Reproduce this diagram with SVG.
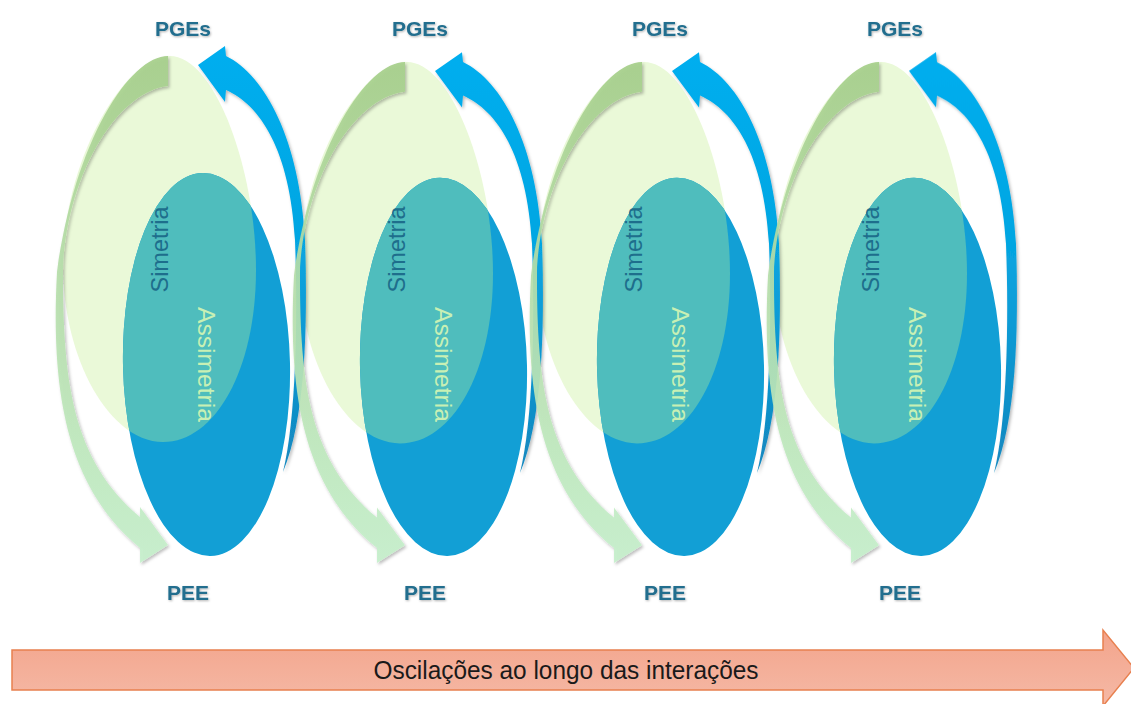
<svg xmlns="http://www.w3.org/2000/svg" xmlns:xlink="http://www.w3.org/1999/xlink" width="1131" height="704" viewBox="0 0 1131 704">
<defs>
<style>
.light{fill:#EAF9D8}
.blue{fill:#129FD5}
.teal{fill:#4FBDBD}
.lbl{font-family:"Liberation Sans",Arial,sans-serif;font-weight:bold;font-size:21px;fill:#216E8E;text-anchor:middle}
.sim{font-family:"Liberation Sans",Arial,sans-serif;font-size:24px;fill:#1E6E8C;text-anchor:middle}
.asim{font-family:"Liberation Sans",Arial,sans-serif;font-size:24.5px;fill:#C8F0B4;text-anchor:middle}
.garrow{fill:url(#gGreen);opacity:0.92}
.barrow{fill:url(#gBlue)}
</style>
<linearGradient id="gGreen" gradientUnits="userSpaceOnUse" x1="0" y1="56" x2="0" y2="560">
<stop offset="0" stop-color="#A6CF8B"/>
<stop offset="0.45" stop-color="#B6DEAA"/>
<stop offset="1" stop-color="#C6F0CC"/>
</linearGradient>
<linearGradient id="gBlue" gradientUnits="userSpaceOnUse" x1="0" y1="46" x2="0" y2="472">
<stop offset="0" stop-color="#00AEEF"/>
<stop offset="0.45" stop-color="#06A6E2"/>
<stop offset="1" stop-color="#1487BE"/>
</linearGradient>
<linearGradient id="gOrange" x1="0" y1="0" x2="0" y2="1">
<stop offset="0" stop-color="#F3A48B"/>
<stop offset="1" stop-color="#F5B9A6"/>
</linearGradient>
<filter id="sh" x="-20%" y="-20%" width="140%" height="140%">
<feDropShadow dx="1.5" dy="2" stdDeviation="1.5" flood-color="#000" flood-opacity="0.28"/>
</filter>
<filter id="tsh" x="-20%" y="-20%" width="140%" height="140%">
<feDropShadow dx="0.8" dy="1" stdDeviation="0.8" flood-color="#000" flood-opacity="0.3"/>
</filter>
<clipPath id="clipBlue" clipPathUnits="userSpaceOnUse">
<ellipse cx="206.5" cy="364.5" rx="83.5" ry="191.5" transform="rotate(-1.2 206.5 364.5)"/>
</clipPath>
<path id="egg" d="M170,56 C215,56 256,170 256,270 C256,370 215,442 163,442 C110,442 63,360 63,265 C63,160 125,56 170,56 Z"/>
<g id="unitShapes">
<use xlink:href="#egg" class="light"/>
<ellipse class="blue" cx="206.5" cy="364.5" rx="83.5" ry="191.5" transform="rotate(-1.2 206.5 364.5)"/>
<g clip-path="url(#clipBlue)">
<use xlink:href="#egg" class="teal"/>
</g>
</g>
<path id="greenArrow" d="M168,56 C130,56 75,140 57,272 C50,400 70,490 140,548 L140,563 L168,545 L140,507 L140,517 C72,460 63,380 63,272 C65,180 115,92 168,86 Z"/>
<path id="blueArrow" d="M198,65 L225,46 L226,56 C265,75 300,140 305,240 C308,330 305,420 283,472 C296,420 298,320 295,240 C290,150 260,105 226,90 L225,102 Z"/>
</defs>
<rect width="1131" height="704" fill="#FFFFFF"/>

<g id="node-1">
<use xlink:href="#unitShapes"/>
<text class="lbl" x="183" y="36" filter="url(#tsh)">PGEs</text>
<text class="lbl" x="188" y="600" filter="url(#tsh)">PEE</text>
<text class="sim" transform="translate(168,249.5) rotate(-90)" textLength="86" lengthAdjust="spacingAndGlyphs">Simetria</text>
<text class="asim" transform="translate(198,364.5) rotate(90)" textLength="115" lengthAdjust="spacingAndGlyphs">Assimetria</text>
</g>

<g id="node-2">
<use xlink:href="#unitShapes" transform="translate(237,6.7) scale(1,0.988)"/>
<text class="lbl" x="420" y="36" filter="url(#tsh)">PGEs</text>
<text class="lbl" x="425" y="600" filter="url(#tsh)">PEE</text>
<text class="sim" transform="translate(405,249.5) rotate(-90)" textLength="86" lengthAdjust="spacingAndGlyphs">Simetria</text>
<text class="asim" transform="translate(435,364.5) rotate(90)" textLength="115" lengthAdjust="spacingAndGlyphs">Assimetria</text>
</g>

<g id="node-3">
<use xlink:href="#unitShapes" transform="translate(474,6.7) scale(1,0.988)"/>
<text class="lbl" x="660" y="36" filter="url(#tsh)">PGEs</text>
<text class="lbl" x="665" y="600" filter="url(#tsh)">PEE</text>
<text class="sim" transform="translate(642,249.5) rotate(-90)" textLength="86" lengthAdjust="spacingAndGlyphs">Simetria</text>
<text class="asim" transform="translate(672,364.5) rotate(90)" textLength="115" lengthAdjust="spacingAndGlyphs">Assimetria</text>
</g>

<g id="node-4">
<use xlink:href="#unitShapes" transform="translate(711,6.7) scale(1,0.988)"/>
<text class="lbl" x="895" y="36" filter="url(#tsh)">PGEs</text>
<text class="lbl" x="900" y="600" filter="url(#tsh)">PEE</text>
<text class="sim" transform="translate(879,249.5) rotate(-90)" textLength="86" lengthAdjust="spacingAndGlyphs">Simetria</text>
<text class="asim" transform="translate(909,364.5) rotate(90)" textLength="115" lengthAdjust="spacingAndGlyphs">Assimetria</text>
</g>

<g id="connectors" filter="url(#sh)">
<use xlink:href="#blueArrow" class="barrow"/>
<use xlink:href="#blueArrow" class="barrow" transform="translate(237,6.7) scale(1,0.988)"/>
<use xlink:href="#blueArrow" class="barrow" transform="translate(474,6.7) scale(1,0.988)"/>
<use xlink:href="#blueArrow" class="barrow" transform="translate(711,6.7) scale(1,0.988)"/>
<use xlink:href="#greenArrow" class="garrow"/>
<use xlink:href="#greenArrow" class="garrow" transform="translate(237,6.7) scale(1,0.988)"/>
<use xlink:href="#greenArrow" class="garrow" transform="translate(474,6.7) scale(1,0.988)"/>
<use xlink:href="#greenArrow" class="garrow" transform="translate(711,6.7) scale(1,0.988)"/>
</g>

<g id="timeline">
<path d="M12,650 H1103 V630 L1134,668 L1103,706 V690 H12 Z" fill="url(#gOrange)" stroke="#E8804F" stroke-width="1.5"/>
<text x="566" y="679" font-family="'Liberation Sans',Arial,sans-serif" font-size="25" fill="#1A1A1A" text-anchor="middle" textLength="385" lengthAdjust="spacingAndGlyphs">Oscilações ao longo das interações</text>
</g>
</svg>
